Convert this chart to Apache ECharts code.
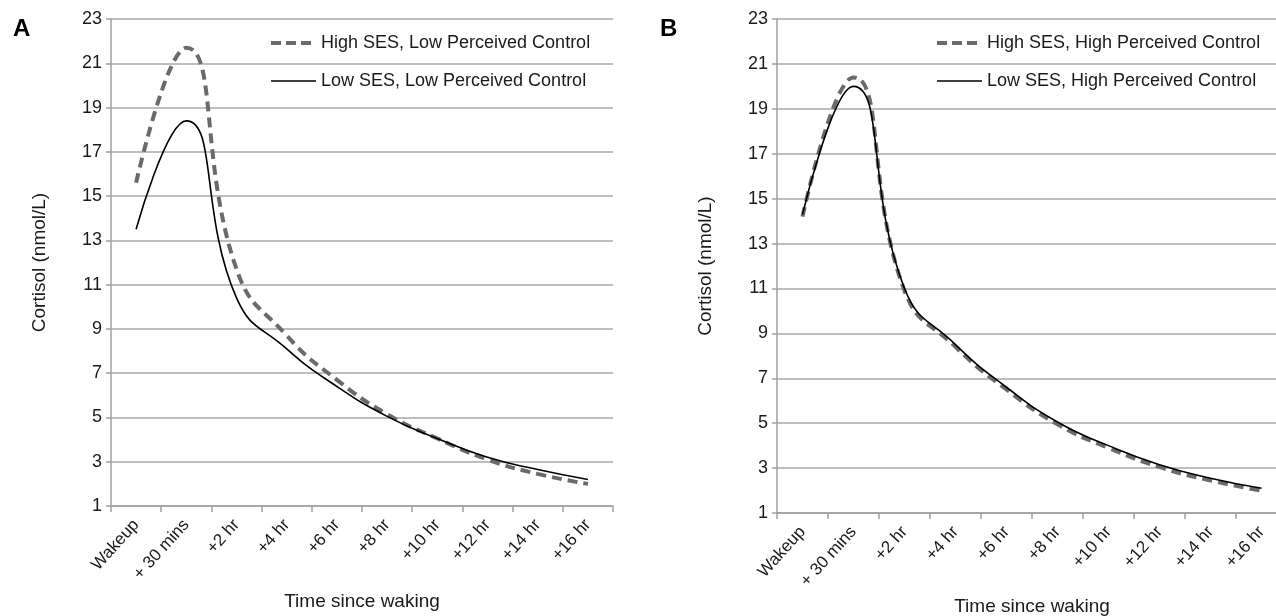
<!DOCTYPE html>
<html>
<head>
<meta charset="utf-8">
<script src="https://cdn.jsdelivr.net/npm/echarts@6/dist/echarts.min.js"></script>
<style>
html,body{margin:0;padding:0;background:#fff;}
#c{width:1276px;height:616px;}
</style>
</head>
<body>
<div id="c"></div>
<script>
var categories = ['Wakeup', '+ 30 mins', '+2 hr', '+4 hr', '+6 hr', '+8 hr', '+10 hr', '+12 hr', '+14 hr', '+16 hr'];
var highSesLowPC = [15.6, 21.7, 11.7, 8.7, 6.7, 5.15, 4.05, 3.1, 2.45, 2.0];
var lowSesLowPC  = [13.5, 18.4, 10.4, 8.1, 6.4, 5.05, 4.05, 3.2, 2.65, 2.2];
var highSesHighPC = [14.2, 20.4, 10.9, 8.4, 6.5, 4.95, 3.9, 3.05, 2.45, 2.0];
var lowSesHighPC  = [14.3, 20.0, 11.0, 8.5, 6.6, 5.05, 4.0, 3.15, 2.55, 2.1];
var yMin = 1, yMax = 23, yStep = 2;

var FONT = '"Liberation Sans", Arial, sans-serif';
var chart = echarts.init(document.getElementById('c'), null, {renderer: 'canvas'});

function xAxis(idx, gap) {
  return {
    type: 'category', gridIndex: idx, data: categories,
    boundaryGap: true,
    axisLine: {show: true, lineStyle: {color: '#a0a0a0', width: 1.5}},
    axisTick: {show: true, length: 6, lineStyle: {color: '#a0a0a0', width: 1.5}},
    axisLabel: {interval: 0, rotate: 48, fontSize: 17, color: '#1a1a1a', fontFamily: FONT, margin: 16},
    name: 'Time since waking', nameLocation: 'middle', nameGap: gap,
    nameTextStyle: {fontSize: 19, color: '#1a1a1a', fontFamily: FONT}
  };
}
function yAxis(idx) {
  return {
    type: 'value', gridIndex: idx, min: yMin, max: yMax, interval: yStep,
    axisLine: {show: true, lineStyle: {color: '#a0a0a0', width: 1.5}},
    axisTick: {show: true, length: 5, lineStyle: {color: '#a0a0a0', width: 1.5}},
    axisLabel: {fontSize: 18, color: '#1a1a1a', fontFamily: FONT, margin: 9},
    splitLine: {show: true, lineStyle: {color: '#a8a8a8', width: 1.5}},
    name: 'Cortisol (nmol/L)', nameLocation: 'middle', nameGap: 62,
    nameTextStyle: {fontSize: 19, color: '#1a1a1a', fontFamily: FONT}
  };
}
var dashedStyle = {color: '#6a6a6a', width: 4, type: [10, 6]};
var solidStyle = {color: '#000000', width: 1.6, type: 'solid'};

function series(name, data, idx, style) {
  return {
    name: name, type: 'line', xAxisIndex: idx, yAxisIndex: idx, data: data,
    smooth: 0.5, symbol: 'none', showSymbol: false, lineStyle: style,
    itemStyle: {color: style.color}, animation: false, z: style.width > 2 ? 2 : 3
  };
}

var legendCommon = {
  orient: 'vertical', itemWidth: 45, itemHeight: 14, itemGap: 18,
  textStyle: {fontSize: 18, color: '#1a1a1a', fontFamily: FONT, lineHeight: 20},
  itemStyle: {color: 'rgba(0,0,0,0)', borderWidth: 0, borderColor: 'rgba(0,0,0,0)'}
};
function legendItems(dashedName, solidName) {
  return [
    {name: dashedName, lineStyle: {width: 4, color: '#6a6a6a', type: [10, 5]}},
    {name: solidName, lineStyle: {width: 1.6, color: '#000000', type: 'solid'}}
  ];
}

var option = {
  backgroundColor: '#ffffff',
  animation: false,
  title: [
    {text: 'A', left: 8, top: 12, textStyle: {fontSize: 24, fontWeight: 'bold', color: '#000', fontFamily: FONT}},
    {text: 'B', left: 655, top: 12, textStyle: {fontSize: 24, fontWeight: 'bold', color: '#000', fontFamily: FONT}}
  ],
  grid: [
    {left: 111, right: 663, top: 19, bottom: 110, containLabel: false, outerBoundsMode: 'none'},
    {left: 777, right: -11, top: 19, bottom: 103, containLabel: false, outerBoundsMode: 'none'}
  ],
  xAxis: [xAxis(0, 86), xAxis(1, 79)],
  yAxis: [yAxis(0), yAxis(1)],
  legend: [
    Object.assign({}, legendCommon, {left: 264, top: 28, data: legendItems('High SES, Low Perceived Control', 'Low SES, Low Perceived Control')}),
    Object.assign({}, legendCommon, {left: 930, top: 28, data: legendItems('High SES, High Perceived Control', 'Low SES, High Perceived Control')})
  ],
  series: [
    series('High SES, Low Perceived Control', highSesLowPC, 0, dashedStyle),
    series('Low SES, Low Perceived Control', lowSesLowPC, 0, solidStyle),
    series('High SES, High Perceived Control', highSesHighPC, 1, dashedStyle),
    series('Low SES, High Perceived Control', lowSesHighPC, 1, solidStyle)
  ]
};
chart.setOption(option);
</script>
</body>
</html>
